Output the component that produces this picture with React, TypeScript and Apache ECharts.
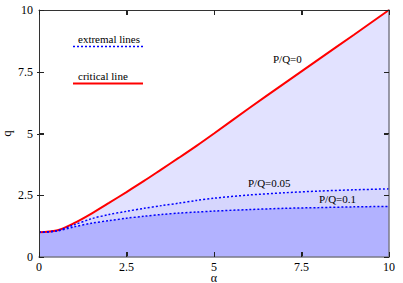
import React, { useEffect, useRef } from "react";
import * as echarts from "echarts";

const alpha = [0, 0.5, 1, 1.5, 2, 2.5, 3, 3.5, 4, 4.5, 5, 6, 7, 8, 9, 10];
const critical = [1, 1.07, 1.37, 1.76, 2.19, 2.63, 3.08, 3.55, 4.02, 4.5, 5.0, 6.02, 7.02, 8.01, 9.0, 10];
const extremal005 = [1, 1.06, 1.3, 1.55, 1.72, 1.85, 1.97, 2.08, 2.18, 2.29, 2.38, 2.51, 2.6, 2.67, 2.72, 2.76];
const extremal01 = [1, 1.05, 1.22, 1.37, 1.47, 1.57, 1.65, 1.72, 1.78, 1.82, 1.86, 1.92, 1.97, 2.0, 2.03, 2.05];
const ticks = [0, 2.5, 5, 7.5, 10];

const pts = (ys: number[]) => alpha.map((a, i) => [a, ys[i]]);
const FONT = "Liberation Serif";
const GRID = { left: 39, right: 14, top: 10, bottom: 26 };
const W = 403;
const H = 283;

export default function App() {
  const ref = useRef<HTMLDivElement>(null);
  useEffect(() => {
    const chart = echarts.init(ref.current!, null, { renderer: "svg" });
    const axisCommon = {
      type: "value" as const,
      min: ticks[0],
      max: ticks[ticks.length - 1],
      interval: 2.5,
      splitLine: { show: false },
      axisTick: { show: true, inside: true, length: 5, lineStyle: { color: "#222", width: 1 } },
      z: 20,
      zlevel: 1,
    };
    const areaSeries = (ys: number[], color: string, z: number) => ({
      type: "line",
      data: pts(ys),
      smooth: 0.3,
      showSymbol: false,
      symbol: "none",
      lineStyle: { width: 0 },
      areaStyle: { color, opacity: 1 },
      z,
      silent: true,
    });
    const txt = (text: string, x: number, y: number) => ({
      type: "text",
      left: x,
      top: y,
      style: { text, font: "11px Liberation Serif", fill: "#000" },
      z: 10,
    });

    const lo = ticks[0];
    const hi = ticks[ticks.length - 1];
    const toX = (v: number) => GRID.left + ((v - lo) / (hi - lo)) * (W - GRID.left - GRID.right);
    const toY = (v: number) => H - GRID.bottom - ((v - lo) / (hi - lo)) * (H - GRID.top - GRID.bottom);
    const x0 = toX(lo);
    const x1 = toX(hi);
    const y0 = toY(lo);
    const y1 = toY(hi);
    const L = 5;
    const tickStyle = { stroke: "#222", lineWidth: 1 };
    const tickEls: any[] = [];
    ticks.slice(1, -1).forEach((t) => {
      const px = Math.round(toX(t)) + 0.5;
      const py = Math.round(toY(t)) + 0.5;
      tickEls.push({ type: "line", shape: { x1: px, y1: y0, x2: px, y2: y0 - L }, style: tickStyle, z: 30 });
      tickEls.push({ type: "line", shape: { x1: px, y1: y1, x2: px, y2: y1 + L }, style: tickStyle, z: 30 });
      tickEls.push({ type: "line", shape: { x1: x0 - 2, y1: py, x2: x0 + L, y2: py }, style: tickStyle, z: 30 });
      tickEls.push({ type: "line", shape: { x1: x1, y1: py, x2: x1 - L, y2: py }, style: tickStyle, z: 30 });
    });

    chart.setOption({
      animation: false,
      textStyle: { fontFamily: FONT },
      grid: { ...GRID, containLabel: false, outerBoundsMode: "none" },
      xAxis: [
        {
          ...axisCommon,
          position: "bottom",
          name: "α",
          nameLocation: "middle",
          nameGap: 21,
          nameMoveOverlap: false,
          nameTextStyle: { fontFamily: FONT, fontSize: 12, lineHeight: 8, color: "#000", verticalAlign: "middle" },
          axisLine: { show: true, onZero: false, lineStyle: { color: "#7a7a88", width: 1.5 } },
          axisLabel: { fontFamily: FONT, fontSize: 12, lineHeight: 12, color: "#000", margin: 4 },
        },
        {
          ...axisCommon,
          position: "top",
          axisLine: { show: true, onZero: false, lineStyle: { color: "#333", width: 1 } },
          axisLabel: { show: false },
        },
      ],
      yAxis: [
        {
          ...axisCommon,
          position: "left",
          name: "q",
          nameLocation: "middle",
          nameGap: 26,
          nameMoveOverlap: false,
          nameRotate: 90,
          nameTextStyle: { fontFamily: FONT, fontSize: 13, color: "#000" },
          axisLine: { show: true, onZero: false, lineStyle: { color: "#333", width: 1 } },
          axisLabel: { fontFamily: FONT, fontSize: 12, color: "#000", margin: 6 },
        },
        {
          ...axisCommon,
          position: "right",
          axisLine: { show: true, onZero: false, lineStyle: { color: "#7a7a88", width: 1.5 } },
          axisLabel: { show: false },
        },
      ],
      series: [
        areaSeries(critical, "#e2e2ff", 1),
        areaSeries(extremal005, "#d6d6fd", 2),
        areaSeries(extremal01, "#b2b2ff", 3),
        {
          type: "line",
          data: pts(critical),
          smooth: 0.3,
          symbol: "none",
          lineStyle: { color: "#ff0000", width: 2 },
          z: 5,
        },
        {
          type: "line",
          data: pts(extremal005),
          smooth: 0.3,
          symbol: "none",
          lineStyle: { color: "#0000ff", width: 1.5, type: [2, 2] },
          z: 6,
        },
        {
          type: "line",
          data: pts(extremal01),
          smooth: 0.3,
          symbol: "none",
          lineStyle: { color: "#0000ff", width: 1.5, type: [2, 2] },
          z: 6,
        },
      ],
      graphic: [
        ...tickEls,
        txt("extremal lines", 78, 33),
        { type: "line", shape: { x1: 73, y1: 46.5, x2: 144, y2: 46.5 }, style: { stroke: "#0000ff", lineWidth: 1.5, lineDash: [2, 2] }, z: 10 },
        txt("critical line", 78, 70),
        { type: "line", shape: { x1: 73, y1: 83.5, x2: 143, y2: 83.5 }, style: { stroke: "#ff0000", lineWidth: 2 }, z: 10 },
        txt("P/Q=0", 273, 53),
        txt("P/Q=0.05", 248, 177),
        txt("P/Q=0.1", 319, 193),
      ],
    });
    return () => chart.dispose();
  }, []);
  return (
    <div
      ref={ref}
      style={{ position: "fixed", left: 0, top: 0, width: 403, height: 283, background: "#fff" }}
    />
  );
}
